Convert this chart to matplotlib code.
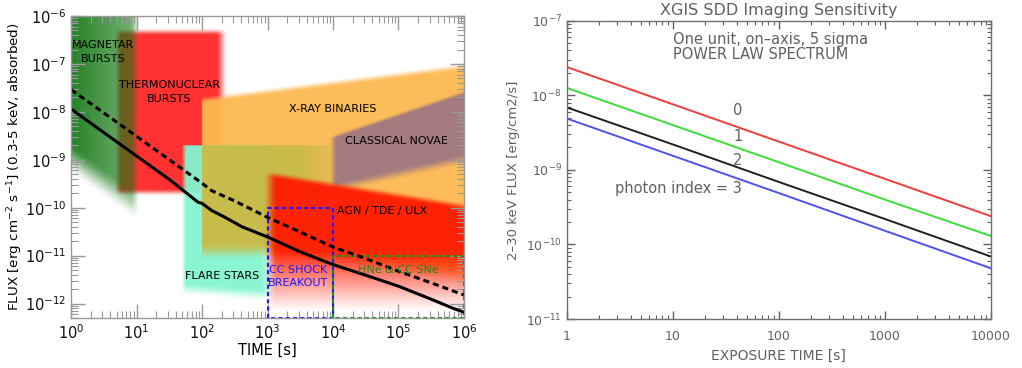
import numpy as np
import matplotlib
matplotlib.use("Agg")
import matplotlib.pyplot as plt
from matplotlib.colors import to_rgb
from matplotlib.ticker import LogLocator, NullFormatter, FixedLocator, FixedFormatter

# ---------------- data: left panel (transient classes) ----------------
MAG_T = [0.5, 9.5, 9.5, 0.5]
MAG_F = [3e-6, 3e-6, 1.1e-10, 2.2e-9]
TNB_T = [5.2, 200, 200, 5.2]
TNB_F = [4.7e-7, 4.7e-7, 2.1e-10, 2.1e-10]
XRB_T = [100, 2e6, 2e6, 100]
XRB_F = [1.8e-8, 1.0e-7, 3e-12, 3e-11]
OLV_T = [100, 1e4, 1e4, 100]
OLV_F = [2e-9, 2e-9, 1.2e-11, 1.2e-11]
FLR_T = [53, 1e3, 1e3, 53]
FLR_F = [2e-9, 2e-9, 1.5e-12, 2.0e-12]
NOV_T = [1e4, 2e6, 2e6, 1e4]
NOV_F = [3e-9, 3.5e-8, 1.25e-9, 2.5e-10]
AGN_T = [1.1e3, 2e6, 2e6, 1.1e3]
AGN_F = [5e-10, 9.3e-11, 4e-13, 4e-13]

CCS_T = [1e3, 1e3, 1e4, 1e4, 1e3]
CCS_F = [5e-13, 1e-10, 1e-10, 5e-13, 5e-13]
HNE_T = [1e4, 1e4, 1e6, 1e6, 1e4]
HNE_F = [5e-13, 1e-11, 1e-11, 5e-13, 5e-13]

SOLID_T = [1, 3.16, 10, 31.6, 87, 100, 141, 224, 407, 1e3, 3.16e3, 1e4,
           3.16e4, 1e5, 3.16e5, 6.9e5, 1e6]
SOLID_F = [1.15e-8, 3.7e-9, 1.2e-9, 3.9e-10, 1.30e-10, 1.23e-10, 8.7e-11,
           6.3e-11, 4.0e-11, 2.45e-11, 1.2e-11, 6.5e-12, 3.9e-12, 2.3e-12,
           1.23e-12, 7.9e-13, 6.6e-13]
DASH_T = [1, 10, 100, 141, 316, 1e3, 3.16e3, 1e4, 3.16e4, 1e5, 3.16e5, 1e6]
DASH_F = [2.92e-8, 3.1e-9, 3.24e-10, 2.26e-10, 1.38e-10, 6.3e-11, 3.1e-11,
          1.51e-11, 8.7e-12, 4.7e-12, 2.7e-12, 1.51e-12]

# ---------------- data: right panel ----------------
EXPOSURE = [1, 10, 100, 1000, 10000]
IDX0 = [2.4e-8, 7.6e-9, 2.4e-9, 7.6e-10, 2.4e-10]
IDX1 = [1.26e-8, 4.0e-9, 1.27e-9, 4.0e-10, 1.3e-10]
IDX2 = [6.9e-9, 2.2e-9, 6.9e-10, 2.2e-10, 6.9e-11]
IDX3 = [4.9e-9, 1.55e-9, 4.9e-10, 1.53e-10, 4.8e-11]
XTICKS_R = [1, 10, 100, 1000, 10000]
XTICKLABELS_R = ["1", "10", "100", "1000", "10000"]
YTICKS_R = [1e-11, 1e-10, 1e-9, 1e-8, 1e-7]
YTICKLABELS_R = ["10$^{-11}$", "10$^{-10}$", "10$^{-9}$", "10$^{-8}$", "10$^{-7}$"]

fig = plt.figure(figsize=(10.22, 3.68), dpi=100)
fig.patch.set_facecolor("white")

# ================= LEFT PANEL =================
POS_L = [0.0695, 0.136, 0.3845, 0.8205]
XMIN, XMAX, YMIN, YMAX = 1, 1e6, 5e-13, 1e-6
LX0, LX1, LY0, LY1 = np.log10([XMIN, XMAX, YMIN, YMAX])

# background axes in log10 units that carries the soft-edged regions
axb = fig.add_axes(POS_L)
axb.set_xlim(LX0, LX1)
axb.set_ylim(LY0, LY1)
axb.set_axis_off()

ax = fig.add_axes(POS_L)
ax.set_xscale("log")
ax.set_yscale("log")
ax.patch.set_alpha(0)

PXX, PXY = 65.5, 48.2  # pixels per decade (for soft edge widths)
NX, NY = 393, 302
GXC = LX0 + (np.arange(NX) + 0.5) * (LX1 - LX0) / NX
GYC = LY0 + (np.arange(NY) + 0.5) * (LY1 - LY0) / NY
CX, CY = np.meshgrid(GXC, GYC)
PX, PY = CX * PXX, CY * PXY


def soft_fill(t, f, color, amax, blurs, fade=None):
    lx = np.log10(t) * PXX
    ly = np.log10(f) * PXY
    area = 0.5 * np.sum(lx * np.roll(ly, -1) - np.roll(lx, -1) * ly)
    sgn = 1.0 if area > 0 else -1.0
    A = np.ones_like(PX)
    n = len(lx)
    for i in range(n):
        x0, y0 = lx[i], ly[i]
        x1, y1 = lx[(i + 1) % n], ly[(i + 1) % n]
        ex, ey = x1 - x0, y1 - y0
        L = np.hypot(ex, ey)
        nx_, ny_ = -ey / L * sgn, ex / L * sgn
        d = (PX - x0) * nx_ + (PY - y0) * ny_
        b = max(blurs[i], 0.8)
        s = np.clip(0.5 + d / b, 0, 1)
        A *= s * s * (3 - 2 * s)
    if fade is not None:
        (fx0, fy0), (fx1, fy1), a0, a1 = fade
        vx, vy = (fx1 - fx0) * PXX, (fy1 - fy0) * PXY
        u = ((PX - fx0 * PXX) * vx + (PY - fy0 * PXY) * vy) / (vx * vx + vy * vy)
        u = np.clip(u, 0, 1)
        A *= a0 + (a1 - a0) * u
    A *= amax
    rgba = np.zeros((NY, NX, 4))
    rgba[..., :3] = to_rgb(color)
    rgba[..., 3] = A
    axb.imshow(rgba, extent=(LX0, LX1, LY0, LY1), origin="lower",
               aspect="auto", interpolation="bilinear")


soft_fill(TNB_T, TNB_F, "#ff2a2a", 0.97, [8, 12, 8, 8])
soft_fill(MAG_T, MAG_F, "#147814", 0.93, [0, 10, 26, 0],
          fade=((0, -8), (1.0, -8), 1.0, 0.62))
soft_fill(XRB_T, XRB_F, "#fcb950", 0.95, [8, 0, 20, 2])
soft_fill(FLR_T, FLR_F, "#84f5d2", 0.95, [1, 16, 14, 6])
soft_fill(OLV_T, OLV_F, "#c9bb47", 0.97, [1, 10, 18, 1],
          fade=((3.45, -9), (4.0, -9), 1.0, 0.35))
soft_fill(NOV_T, NOV_F, "#9e7882", 0.95, [5, 0, 12, 8])
soft_fill(AGN_T, AGN_F, "#ff1a00", 0.95, [8, 0, 0, 14],
          fade=((4, -10.9), (4, -12.15), 1.0, 0.0))
axb.set_xlim(LX0, LX1)
axb.set_ylim(LY0, LY1)

ax.plot(CCS_T, CCS_F, color="#1a1aff", lw=1.5, dashes=(2.0, 1.5), zorder=8, clip_on=False)
ax.plot(HNE_T, HNE_F, color="#1a8c1a", lw=1.5, dashes=(2.0, 1.5), zorder=8, clip_on=False)

ax.plot(SOLID_T, SOLID_F, color="black", lw=2.2, zorder=9)
ax.plot(DASH_T, DASH_F, color="black", lw=2.2, dashes=(2.0, 1.3), zorder=9)
ax.set_xlim(XMIN, XMAX)
ax.set_ylim(YMIN, YMAX)

lab = dict(fontsize=8, ha="center", va="center", zorder=10)
ax.text(3.1, 1.75e-7, "MAGNETAR\nBURSTS", linespacing=1.45, **lab)
ax.text(31.4, 2.6e-8, "THERMONUCLEAR\nBURSTS", linespacing=1.4, **lab)
ax.text(1.0e4, 1.17e-8, "X-RAY BINARIES", **lab)
ax.text(9.4e4, 2.5e-9, "CLASSICAL NOVAE", **lab)
ax.text(5.6e4, 8.5e-11, "AGN / TDE / ULX", **lab)
ax.text(200, 3.8e-12, "FLARE STARS", **lab)
ax.text(2.9e3, 3.6e-12, "CC SHOCK\nBREAKOUT", color="#1a1aff", linespacing=1.4, **lab)
ax.text(1.0e5, 5.1e-12, "HNe & CC SNe", color="#1a8c1a", **lab)

ax.xaxis.set_major_locator(LogLocator(base=10, numticks=20))
ax.yaxis.set_major_locator(LogLocator(base=10, numticks=20))
ax.xaxis.set_minor_locator(LogLocator(base=10, subs=np.arange(2, 10), numticks=20))
ax.yaxis.set_minor_locator(LogLocator(base=10, subs=np.arange(2, 10), numticks=20))
ax.xaxis.set_minor_formatter(NullFormatter())
ax.yaxis.set_minor_formatter(NullFormatter())
ax.tick_params(which="both", direction="in", top=True, right=True, color="#999999",
               labelsize=10.5, labelcolor="#111111")
ax.tick_params(which="major", length=10, width=1)
ax.tick_params(which="minor", length=5, width=0.8)
for s in ax.spines.values():
    s.set_color("#999999")
    s.set_linewidth(1.0)
    s.set_zorder(11)
ax.set_xlabel("TIME [s]", fontsize=10.5, labelpad=1)
ax.set_ylabel("FLUX [erg cm$^{-2}$ s$^{-1}$] (0.3-5 keV, absorbed)", fontsize=9.7)
ax.yaxis.set_label_coords(-0.118, 0.5)

# ================= RIGHT PANEL =================
GREY = "#606060"
bx = fig.add_axes([0.5545, 0.133, 0.415, 0.8105])
bx.set_xscale("log")
bx.set_yscale("log")
bx.plot(EXPOSURE, IDX0, color="#f03c3c", lw=1.4)
bx.plot(EXPOSURE, IDX1, color="#3cdc3c", lw=1.4)
bx.plot(EXPOSURE, IDX2, color="#202020", lw=1.4)
bx.plot(EXPOSURE, IDX3, color="#5050f0", lw=1.4)
bx.set_xlim(1, 10000)
bx.set_ylim(1e-11, 1e-7)

tk = dict(fontsize=10.5, color=GREY, va="center")
bx.text(10, 5.6e-8, "One unit, on\u2013axis, 5 sigma", ha="left", **tk)
bx.text(10, 3.5e-8, "POWER LAW SPECTRUM", ha="left", **tk)
bx.text(41, 6.3e-9, "0", ha="center", **tk)
bx.text(41, 2.85e-9, "1", ha="center", **tk)
bx.text(41, 1.33e-9, "2", ha="center", **tk)
bx.text(44.5, 5.55e-10, "photon index = 3", ha="right", **tk)

bx.set_title("XGIS SDD Imaging Sensitivity", fontsize=11.5, color=GREY, pad=4)
bx.xaxis.set_major_locator(FixedLocator(XTICKS_R))
bx.xaxis.set_major_formatter(FixedFormatter(XTICKLABELS_R))
bx.yaxis.set_major_locator(FixedLocator(YTICKS_R))
bx.yaxis.set_major_formatter(FixedFormatter(YTICKLABELS_R))
bx.xaxis.set_minor_locator(LogLocator(base=10, subs=np.arange(2, 10), numticks=20))
bx.yaxis.set_minor_locator(LogLocator(base=10, subs=np.arange(2, 10), numticks=20))
bx.xaxis.set_minor_formatter(NullFormatter())
bx.yaxis.set_minor_formatter(NullFormatter())
bx.tick_params(which="both", direction="in", top=True, right=True, color=GREY,
               labelsize=9, labelcolor=GREY)
bx.tick_params(which="major", length=6, width=1)
bx.tick_params(which="minor", length=3, width=0.8)
bx.tick_params(axis="x", pad=8)
for s in bx.spines.values():
    s.set_color("#707070")
    s.set_linewidth(1.0)
bx.set_xlabel("EXPOSURE TIME [s]", fontsize=10, color=GREY, labelpad=4)
bx.set_ylabel("2\u201330 keV FLUX [erg/cm2/s]", fontsize=9.5, color=GREY, labelpad=4)

fig.savefig("out.png", dpi=100, facecolor="white")
